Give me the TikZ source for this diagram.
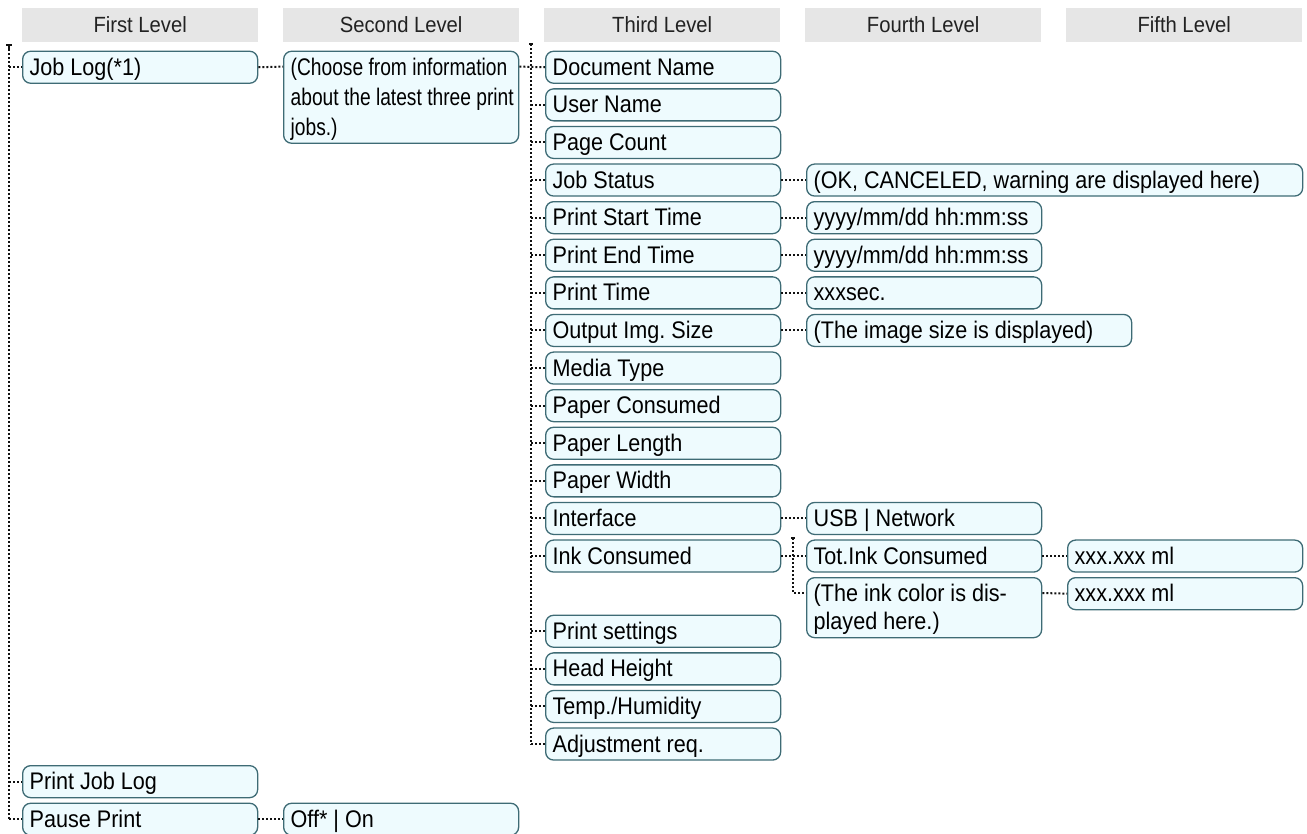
\documentclass[tikz,border=0pt]{standalone}
\usepackage{fontspec}
\setmainfont{Liberation Sans}
\newfontfamily\boxfont[FakeStretch=0.9]{Liberation Sans}
\newfontfamily\condfont[FakeStretch=0.8]{Liberation Sans}
\newfontfamily\hdrfontfam[FakeStretch=0.92]{Liberation Sans}
\usetikzlibrary{calc}
\definecolor{boxfill}{HTML}{EEFBFE}
\definecolor{boxline}{HTML}{3E6B75}
\definecolor{hdrfill}{HTML}{E6E6E6}
\definecolor{hdrtext}{HTML}{222222}
\definecolor{dotcol}{HTML}{111111}
\newcommand\tops{\rule{0pt}{24pt}}
\newcommand\bots{\rule[-8pt]{0pt}{8pt}}
\newcommand\rt[1]{50.6+37.6*#1}
\newcommand\boxfnt{\boxfont\fontsize{24}{28}\selectfont}
\newcommand\condfnt{\condfont\fontsize{24}{30}\selectfont}
\newcommand\hdrfnt{\hdrfontfam\fontsize{22}{24}\selectfont}
\frenchspacing
\tikzset{
  box/.style={draw=boxline, fill=boxfill, line width=1.3pt, rounded corners=8pt,
    anchor=north west, inner xsep=7pt, inner ysep=0pt, text width=#1, align=flush left,
    font=\boxfnt, text=black,
    execute at begin node=\tops, execute at end node=\bots},
  box/.default=221pt,
  hdr/.style={fill=hdrfill, anchor=north west, minimum width=236pt, minimum height=34pt,
    inner sep=0pt, font=\hdrfnt, text=hdrtext},
  dotl/.style={draw=dotcol, line width=2pt, dash pattern=on 2pt off 2pt},
  tick/.style={draw=dotcol, line width=1.5pt},
}
\begin{document}
\begin{tikzpicture}[x=1pt, y=-1pt]
\useasboundingbox (0,0) rectangle (1307,833);
% headers
\node[hdr] (h1) at (22,7.3) {First Level};
\node[hdr] (h2) at (283,7.3) {Second Level};
\node[hdr] (h3) at (544,7.3) {Third Level};
\node[hdr] (h4) at (805,7.3) {Fourth Level};
\node[hdr] (h5) at (1066,7.3) {Fifth Level};
% first level
\node[box] (jl) at (22,{\rt{0}}) {Job Log(*1)};
\node[box] (pjl) at (22,{\rt{19}}) {Print Job Log};
\node[box] (pp) at (22,{\rt{20}}) {Pause Print};
% second level
\node[box, font=\condfnt] (ch) at (283,{\rt{0}}) {\mbox{(Choose from information}\\\mbox{about the latest three print}\\\mbox{jobs.)}};
\node[box] (off) at (283,{\rt{20}}) {Off* | On};
% third level
\node[box] (dn) at (545,{\rt{0}}) {Document Name};
\node[box] (un) at (545,{\rt{1}}) {User Name};
\node[box] (pc) at (545,{\rt{2}}) {Page Count};
\node[box] (js) at (545,{\rt{3}}) {Job Status};
\node[box] (pst) at (545,{\rt{4}}) {Print Start Time};
\node[box] (pet) at (545,{\rt{5}}) {Print End Time};
\node[box] (pt) at (545,{\rt{6}}) {Print Time};
\node[box] (ois) at (545,{\rt{7}}) {Output Img. Size};
\node[box] (mt) at (545,{\rt{8}}) {Media Type};
\node[box] (pcn) at (545,{\rt{9}}) {Paper Consumed};
\node[box] (pl) at (545,{\rt{10}}) {Paper Length};
\node[box] (pw) at (545,{\rt{11}}) {Paper Width};
\node[box] (itf) at (545,{\rt{12}}) {Interface};
\node[box] (ic) at (545,{\rt{13}}) {Ink Consumed};
\node[box] (ps) at (545,{\rt{15}}) {Print settings};
\node[box] (hh) at (545,{\rt{16}}) {Head Height};
\node[box] (th) at (545,{\rt{17}}) {Temp./Humidity};
\node[box] (adj) at (545,{\rt{18}}) {Adjustment req.};
% fourth level
\node[box=482pt] (ok) at (806,{\rt{3}}) {(OK, CANCELED, warning are displayed here)};
\node[box] (y1) at (806,{\rt{4}}) {yyyy/mm/dd hh:mm:ss};
\node[box] (y2) at (806,{\rt{5}}) {yyyy/mm/dd hh:mm:ss};
\node[box] (xs) at (806,{\rt{6}}) {xxxsec.};
\node[box=311pt] (isz) at (806,{\rt{7}}) {(The image size is displayed)};
\node[box] (usb) at (806,{\rt{12}}) {USB | Network};
\node[box] (tic) at (806,{\rt{13}}) {Tot.Ink Consumed};
\node[box] (icol) at (806,{\rt{14}}) {(The ink color is dis-\\played here.)};
% fifth level
\node[box] (x1) at (1067,{\rt{13}}) {xxx.xxx ml};
\node[box] (x2) at (1067,{\rt{14}}) {xxx.xxx ml};
% trunk 1
\coordinate (t1) at (9,45);
\draw[tick] (6,45) -- (12,45);
\draw[tick] (t1) -- (9,50);
\draw[dotl] (t1) -- (t1 |- pp.west);
\foreach \n in {jl,pjl,pp} \draw[dotl] (t1 |- \n.west) -- (\n.west);
\draw[dotl] (jl.east) -- ([yshift=-16pt]ch.north west);
\draw[dotl] (pp.east) -- (off.west);
% trunk 3
\coordinate (t3) at (531,44);
\draw[tick] (529,44) -- (533,44);
\draw[dotl] (t3) -- (t3 |- adj.west);
\draw[dotl] ([yshift=-16pt]ch.north east) -- (dn.west);
\foreach \n in {un,pc,js,pst,pet,pt,ois,mt,pcn,pl,pw,itf,ic,ps,hh,th,adj}
  \draw[dotl] (t3 |- \n.west) -- (\n.west);
% fourth level links
\draw[dotl] (js.east) -- (ok.west);
\draw[dotl] (pst.east) -- (y1.west);
\draw[dotl] (pet.east) -- (y2.west);
\draw[dotl] (pt.east) -- (xs.west);
\draw[dotl] (ois.east) -- (isz.west);
\draw[dotl] (itf.east) -- (usb.west);
\draw[dotl] (ic.east) -- (tic.west);
\coordinate (t4) at (793,538);
\coordinate (icolL) at ([yshift=-16pt]icol.north west);
\draw[tick] (791,538) -- (795,538);
\draw[dotl] (t4) -- (t4 |- icolL) -- (icolL);
% fifth level links
\draw[dotl] (tic.east) -- (x1.west);
\draw[dotl] ([yshift=-16pt]icol.north east) -- (x2.west);
\end{tikzpicture}
\end{document}
